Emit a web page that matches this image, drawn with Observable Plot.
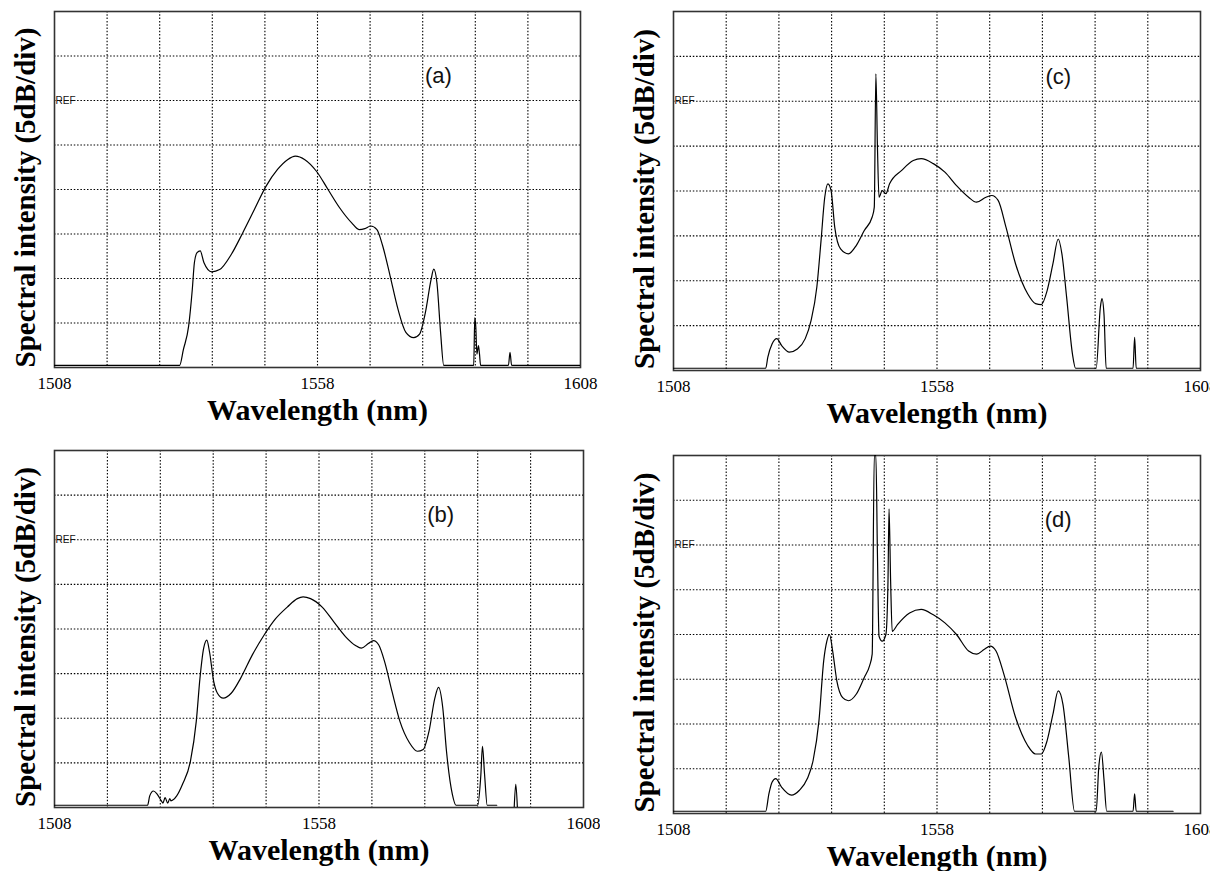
<!DOCTYPE html>
<html>
<head>
<meta charset="utf-8">
<script src="https://cdn.jsdelivr.net/npm/d3@7"></script>
<script src="https://cdn.jsdelivr.net/npm/@observablehq/plot@0.6"></script>
<style>
  html, body { margin: 0; padding: 0; background: #fff; overflow: hidden; }
  #wrap { position: relative; width: 1210px; height: 871px; }
  .panel { position: absolute; }
  .panel svg { max-width: none !important; overflow: visible; }
</style>
</head>
<body>
<div id="wrap"></div>
<script>
// ---- Data (x: wavelength in nm, y: intensity in divisions of 5 dB, 0 = bottom of screen) ----
const xTicks = [1508, 1558, 1608];
const xGrid = [1518, 1528, 1538, 1548, 1558, 1568, 1578, 1588, 1598];
const yGrid = [1, 2, 3, 4, 5, 6, 7];
const refLevel = 6;
const panelLabels = ["(a)", "(b)", "(c)", "(d)"];
const xLabel = "Wavelength (nm)";
const yLabel = "Spectral intensity (5dB/div)";

const aNm = [1508, 1531.8, 1532.5, 1533.5, 1534.2, 1534.6, 1535.1, 1535.7, 1536.4, 1537.9, 1539.4, 1541.6, 1543.8, 1546.0, 1548.2, 1550.4, 1552.3, 1553.8, 1555.6, 1557.8, 1560.0, 1562.2, 1564.5, 1565.9, 1567.0, 1568.1, 1569.3, 1570.4, 1571.8, 1573.3, 1574.8, 1576.3, 1577.4, 1578.5, 1579.6, 1580.1, 1580.7, 1581.4, 1582.0, 1587.7, 1587.9, 1588.1, 1588.3, 1588.6, 1588.8, 1589.0, 1594.3, 1594.6, 1594.9, 1608];
const aDiv = [0.05, 0.05, 0.4, 0.93, 1.76, 2.36, 2.58, 2.62, 2.36, 2.15, 2.2, 2.54, 3.03, 3.55, 4.07, 4.45, 4.67, 4.75, 4.67, 4.41, 4.0, 3.59, 3.25, 3.1, 3.12, 3.18, 3.1, 2.73, 2.06, 1.31, 0.79, 0.67, 0.75, 1.23, 1.98, 2.21, 1.91, 0.79, 0.05, 0.05, 1.12, 0.9, 0.3, 0.49, 0.3, 0.05, 0.05, 0.34, 0.05, 0.05];

const bNm = [1508, 1525.6, 1526.0, 1526.7, 1527.4, 1528.2, 1528.5, 1528.9, 1529.4, 1529.8, 1530.0, 1531.1, 1532.2, 1533.7, 1534.8, 1535.5, 1536.2, 1536.8, 1537.3, 1538.1, 1538.8, 1539.9, 1541.4, 1543.2, 1545.4, 1547.6, 1549.8, 1552.0, 1553.9, 1555.0, 1556.4, 1558.6, 1560.8, 1563.0, 1564.9, 1566.0, 1567.4, 1568.3, 1569.3, 1570.4, 1571.8, 1573.3, 1575.1, 1576.6, 1577.7, 1578.8, 1579.9, 1580.6, 1581.4, 1582.1, 1583.2, 1583.9, 1588.0, 1588.6, 1588.9, 1589.3, 1589.8, 1591.6, 1593.0, 1594.9, 1595.2, 1595.5];
const bDiv = [0.05, 0.05, 0.26, 0.37, 0.3, 0.15, 0.1, 0.22, 0.1, 0.2, 0.15, 0.26, 0.52, 1.04, 1.93, 2.9, 3.57, 3.75, 3.49, 2.82, 2.56, 2.45, 2.56, 2.9, 3.42, 3.86, 4.23, 4.49, 4.68, 4.72, 4.68, 4.49, 4.16, 3.83, 3.63, 3.57, 3.68, 3.74, 3.64, 3.27, 2.6, 1.93, 1.45, 1.26, 1.3, 1.71, 2.45, 2.69, 2.23, 1.26, 0.3, 0.05, 0.05, 0.74, 1.37, 0.74, 0.05, 0.05, NaN, 0, 0.52, 0];

const cNm = [1508, 1525.5, 1525.9, 1526.7, 1527.6, 1528.5, 1530.0, 1531.5, 1533.0, 1534.1, 1535.2, 1536.0, 1536.7, 1537.3, 1537.9, 1538.6, 1539.7, 1541.2, 1542.7, 1544.2, 1545.7, 1546.1, 1546.4, 1546.7, 1547.0, 1547.6, 1548.3, 1549.0, 1551.3, 1553.5, 1555.0, 1557.3, 1559.5, 1561.7, 1564.0, 1565.5, 1567.3, 1568.4, 1569.6, 1571.1, 1572.9, 1575.2, 1576.7, 1577.8, 1578.9, 1580.0, 1581.0, 1581.7, 1582.6, 1583.7, 1584.3, 1588.2, 1589.0, 1589.3, 1589.7, 1590.1, 1595.2, 1595.5, 1595.8, 1608];
const cDiv = [0.05, 0.05, 0.3, 0.59, 0.71, 0.56, 0.41, 0.48, 0.71, 1.11, 1.86, 2.9, 3.86, 4.16, 4.01, 3.19, 2.71, 2.6, 2.79, 3.12, 3.42, 3.64, 6.61, 4.98, 3.86, 4.01, 3.94, 4.16, 4.46, 4.68, 4.72, 4.61, 4.42, 4.12, 3.86, 3.75, 3.86, 3.9, 3.79, 3.19, 2.38, 1.71, 1.49, 1.47, 1.78, 2.38, 2.93, 2.6, 1.63, 0.37, 0.05, 0.05, 1.41, 1.6, 1.23, 0.05, 0.05, 0.74, 0.05, 0.05];

const dNm = [1508, 1525.5, 1526.1, 1526.7, 1527.4, 1528.5, 1530.4, 1531.9, 1533.4, 1534.5, 1535.6, 1536.5, 1537.1, 1537.6, 1538.2, 1539.0, 1540.1, 1541.2, 1542.7, 1544.2, 1545.2, 1545.7, 1546.1, 1546.4, 1546.7, 1547.0, 1547.6, 1548.3, 1548.7, 1548.9, 1549.2, 1549.5, 1550.5, 1552.8, 1555.0, 1557.3, 1559.5, 1561.7, 1564.0, 1565.5, 1567.0, 1568.1, 1569.2, 1570.7, 1572.9, 1575.2, 1576.7, 1577.8, 1578.9, 1580.0, 1581.0, 1581.9, 1583.0, 1584.1, 1588.2, 1588.7, 1589.2, 1589.7, 1590.2, 1595.2, 1595.5, 1595.8, 1602.8];
const dDiv = [0.05, 0.05, 0.44, 0.7, 0.78, 0.59, 0.41, 0.52, 0.78, 1.19, 2.07, 3.41, 3.85, 4.0, 3.63, 2.96, 2.59, 2.52, 2.67, 3.04, 3.3, 3.56, 8, 8, 5.78, 3.96, 3.85, 4.0, 5.19, 6.81, 5.19, 4.07, 4.22, 4.48, 4.56, 4.44, 4.26, 4.0, 3.63, 3.56, 3.67, 3.74, 3.63, 3.11, 2.15, 1.52, 1.33, 1.33, 1.63, 2.22, 2.74, 2.44, 1.26, 0.05, 0.05, 1.04, 1.37, 0.74, 0.05, 0.05, 0.44, 0.05, 0.05];

// ---- Layout ----
const panels = [
  {nm: aNm, div: aDiv, label: panelLabels[0], left: 0,   top: 0,   w: 600, h: 430, ml: 54, mr: 20, mt: 11, mb: 63},
  {nm: bNm, div: bDiv, label: panelLabels[1], left: 0,   top: 430, w: 600, h: 441, ml: 54, mr: 17, mt: 20, mb: 64},
  {nm: cNm, div: cDiv, label: panelLabels[2], left: 600, top: 0,   w: 610, h: 430, ml: 73, mr: 10, mt: 11, mb: 60},
  {nm: dNm, div: dDiv, label: panelLabels[3], left: 600, top: 430, w: 610, h: 441, ml: 73, mr: 10, mt: 25, mb: 58}
];

const serif = "'Liberation Serif', 'Times New Roman', serif";
const sans = "'Liberation Sans', Arial, sans-serif";
const wrap = document.getElementById("wrap");

for (const p of panels) {
  const data = p.nm.map((x, i) => ({x, y: p.div[i]}));
  const chart = Plot.plot({
    width: p.w,
    height: p.h,
    marginLeft: p.ml,
    marginRight: p.mr,
    marginTop: p.mt,
    marginBottom: p.mb,
    x: {domain: [1508, 1608]},
    y: {domain: [0, 8], axis: null},
    style: {background: "white"},
    marks: [
      Plot.gridX(xGrid, {stroke: "#000", strokeOpacity: 1, strokeDasharray: "1.5,1.8", strokeWidth: 1.1}),
      Plot.gridY(yGrid, {stroke: "#000", strokeOpacity: 1, strokeDasharray: "1.5,1.8", strokeWidth: 1.1}),
      Plot.frame({stroke: "#333", strokeWidth: 1.6}),
      Plot.line(data, {x: "x", y: "y", stroke: "#000", strokeWidth: 1.2, curve: "monotone-x", clip: true}),
      Plot.text(["REF"], {frameAnchor: "left", y: [refLevel], text: d => d, textAnchor: "start", dx: 1, fontSize: 10, fontFamily: sans, fill: "#111"}),
      Plot.text([p.label], {x: [1581], y: [6.55], text: d => d, textAnchor: "middle", fontSize: 22, fontFamily: sans, fill: "#111"}),
      Plot.axisX({ticks: xTicks, tickSize: 0, tickPadding: 9, tickFormat: d => `${d}`, fontSize: 17, fontFamily: serif, label: null, color: "#000"}),
      Plot.text([xLabel], {frameAnchor: "bottom", text: d => d, textAnchor: "middle", dy: 43, lineAnchor: "middle", fontSize: 30, fontWeight: "bold", fontFamily: serif, fill: "#000"}),
      Plot.text([yLabel], {frameAnchor: "left", text: d => d, textAnchor: "middle", rotate: -90, dx: -29, dy: 8, lineAnchor: "middle", fontSize: 29, fontWeight: "bold", fontFamily: serif, fill: "#000"})
    ]
  });
  const div = document.createElement("div");
  div.className = "panel";
  div.style.left = p.left + "px";
  div.style.top = p.top + "px";
  div.style.width = p.w + "px";
  div.style.height = p.h + "px";
  div.appendChild(chart);
  wrap.appendChild(div);
}
</script>
</body>
</html>
